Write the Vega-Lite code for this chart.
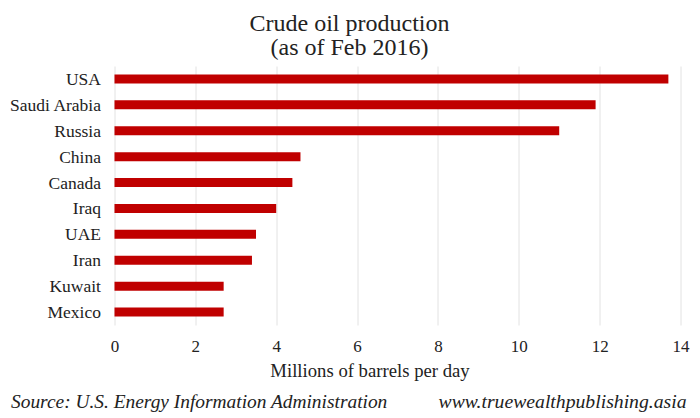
{
  "$schema": "https://vega.github.io/schema/vega-lite/v6.json",
  "width": 566,
  "height": 259,
  "autosize": "none",
  "padding": {"left": 114.5, "top": 66, "right": 19.5, "bottom": 93},
  "background": "#ffffff",
  "title": {
    "text": ["Crude oil production", "(as of Feb 2016)"],
    "font": "Liberation Serif",
    "fontSize": 24,
    "fontWeight": "normal",
    "color": "#222222",
    "lineHeight": 24,
    "anchor": "middle",
    "dx": -48,
    "offset": 6
  },
  "config": {"view": {"stroke": null}},
  "data": {
    "values": [
      {"country": "USA", "production": 13.7},
      {"country": "Saudi Arabia", "production": 11.9},
      {"country": "Russia", "production": 11.0},
      {"country": "China", "production": 4.6},
      {"country": "Canada", "production": 4.4},
      {"country": "Iraq", "production": 4.0},
      {"country": "UAE", "production": 3.5},
      {"country": "Iran", "production": 3.4},
      {"country": "Kuwait", "production": 2.7},
      {"country": "Mexico", "production": 2.7}
    ]
  },
  "layer": [
    {
      "mark": {"type": "bar", "color": "#c00000", "height": 9},
      "encoding": {
        "y": {
          "field": "country",
          "type": "nominal",
          "sort": null,
          "title": null,
          "axis": {
            "domain": false,
            "ticks": false,
            "grid": false,
            "labelFont": "Liberation Serif",
            "labelFontSize": 17.5,
            "labelColor": "#222222",
            "labelOffset": 1,
            "labelPadding": 14
          }
        },
        "x": {
          "field": "production",
          "type": "quantitative",
          "title": "Millions of barrels per day",
          "scale": {"domain": [0, 14], "nice": false},
          "axis": {
            "values": [0, 2, 4, 6, 8, 10, 12, 14],
            "domain": false,
            "ticks": false,
            "grid": true,
            "gridColor": "#e2e2e2",
            "gridWidth": 1,
            "labelFont": "Liberation Serif",
            "labelFontSize": 17,
            "labelColor": "#222222",
            "labelFlush": false,
            "labelPadding": 13,
            "titleFont": "Liberation Serif",
            "titleFontSize": 18.7,
            "titleFontWeight": "normal",
            "titleColor": "#222222",
            "titleX": 255,
            "titleY": 36
          }
        }
      }
    },
    {
      "data": {"values": [{"note": "Source: U.S. Energy Information Administration"}]},
      "mark": {
        "type": "text",
        "font": "Liberation Serif",
        "fontStyle": "italic",
        "fontSize": 19.4,
        "color": "#222222",
        "align": "left",
        "baseline": "alphabetic",
        "yOffset": 83
      },
      "encoding": {
        "text": {"field": "note"},
        "x": {"datum": -2.56},
        "y": {"value": 259}
      }
    },
    {
      "data": {"values": [{"note": "www.truewealthpublishing.asia"}]},
      "mark": {
        "type": "text",
        "font": "Liberation Serif",
        "fontStyle": "italic",
        "fontSize": 19.7,
        "color": "#222222",
        "align": "right",
        "baseline": "alphabetic",
        "yOffset": 83
      },
      "encoding": {
        "text": {"field": "note"},
        "x": {"datum": 14.15},
        "y": {"value": 259}
      }
    }
  ]
}
